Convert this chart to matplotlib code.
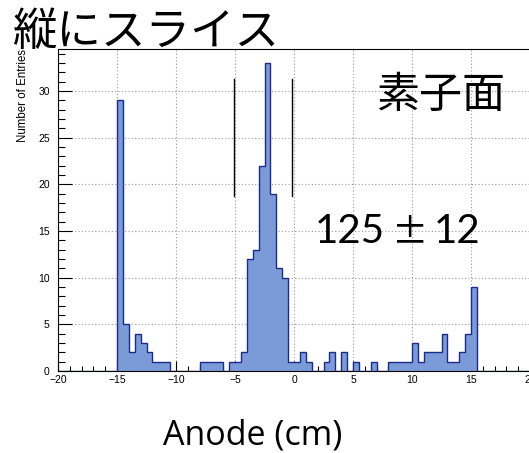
import numpy as np
import matplotlib
matplotlib.use("Agg")
import matplotlib.pyplot as plt
from matplotlib.ticker import MultipleLocator

# ----------
# DONNEES

bin_edges = np.arange(-20.0, 20.5, 0.5)   # 80 bins de 0.5 cm
counts = [0, 0, 0, 0, 0, 0, 0, 0, 0, 0,
          29, 5, 2, 4, 3, 2, 1, 1, 1, 0,
          0, 0, 0, 0, 1, 1, 1, 1, 0, 1,
          1, 2, 12, 13, 22, 33, 19, 11, 10, 1,
          1, 2, 1, 0, 0, 1, 2, 0, 2, 0,
          1, 0, 0, 1, 0, 0, 1, 1, 1, 1,
          3, 1, 2, 2, 2, 4, 1, 1, 2, 4,
          9, 0, 0, 0, 0, 0, 0, 0, 0, 0]

cut_x = [-5.12, -0.15]        # limites de la tranche
cut_y = [18.8, 31.3]

title = "縦にスライス"
face_label = "素子面"
n_value, n_err = "125", "12"
x_title = "Anode (cm)"
y_title = "Number of Entries"

# ----------
# FIGURE

W, H = 529, 453
fig = plt.figure(figsize=(W / 100, H / 100), dpi=100)
ax = fig.add_axes([58 / W, 1 - 371 / H, 472 / W, 322 / H])

ax.stairs(counts, bin_edges, fill=True, color="#7b9bd8", zorder=2)
ax.stairs(counts, bin_edges, color="#1c2a8c", linewidth=1.0, zorder=3)

for x in cut_x:
    ax.plot([x, x], cut_y, color="black", linewidth=1.0, zorder=4)

ax.set_xlim(-20, 20)
ax.set_ylim(0, 34.5)
ax.xaxis.set_major_locator(MultipleLocator(5))
ax.xaxis.set_minor_locator(MultipleLocator(1))
ax.yaxis.set_major_locator(MultipleLocator(5))
ax.yaxis.set_minor_locator(MultipleLocator(1))
ax.grid(True, which="major", linestyle=(0, (1, 2)), color="#999999", linewidth=0.8)
ax.set_axisbelow(True)

ax.tick_params(axis="both", which="both", direction="in", top=False, right=False,
               labelsize=7.5, width=0.8)
ax.tick_params(axis="x", which="major", length=7, pad=3)
ax.tick_params(axis="x", which="minor", length=3.5)
ax.tick_params(axis="y", which="major", length=10, pad=6)
ax.tick_params(axis="y", which="minor", length=5)
for lab in ax.get_xticklabels() + ax.get_yticklabels():
    lab.set_family("Liberation Sans")

ax.set_ylabel(y_title, loc="top", fontsize=8.3, family="Liberation Sans")
ax.yaxis.set_label_coords(-29 / 472, 1.0)

cjk = "Noto Sans CJK JP"
fig.text(12 / W, 1 - 45 / H, title, fontsize=32, family=cjk, ha="left", va="baseline")
fig.text(376 / W, 1 - 108 / H, face_label, fontsize=31, family=cjk, ha="left", va="baseline")
fig.text(315 / W, 1 - 243 / H, n_value, fontsize=29, family="Lato", ha="left", va="baseline")
fig.text(410 / W, 1 - 243 / H, "±", fontsize=26, family=cjk, ha="center", va="baseline")
fig.text(434 / W, 1 - 243 / H, n_err, fontsize=29, family="Lato", ha="left", va="baseline")
fig.text(253 / W, 1 - 444 / H, x_title, fontsize=24.5, family="Open Sans", ha="center", va="baseline")

fig.savefig("out.png", dpi=100)
